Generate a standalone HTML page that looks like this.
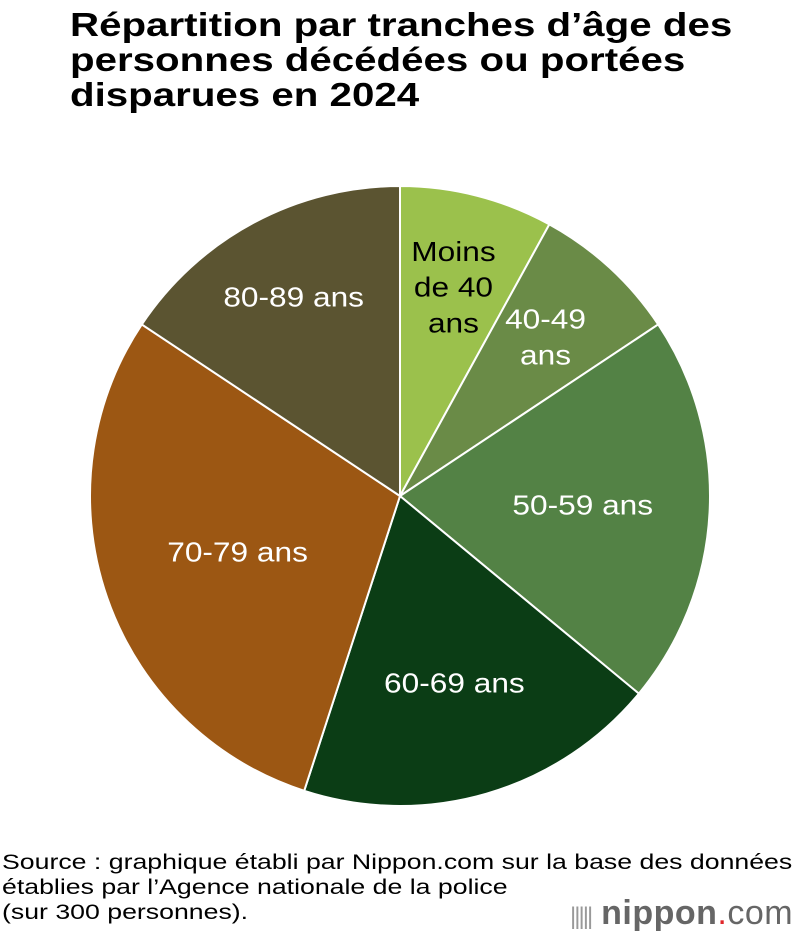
<!DOCTYPE html>
<html><head><meta charset="utf-8"><style>
body{margin:0;width:800px;height:936px;background:#fff;font-family:"Liberation Sans",sans-serif;position:relative;overflow:hidden}
#title{position:absolute;left:70px;top:7px;font-size:33px;font-weight:bold;line-height:35px;color:#000;margin:0;white-space:nowrap;transform:scaleX(1.22);transform-origin:0 0}
#src{position:absolute;left:2px;top:850px;font-size:21px;line-height:25px;color:#000;white-space:nowrap;transform:scaleX(1.27);transform-origin:0 0}
#logo{position:absolute;left:570px;top:894px;font-size:34px;color:#666;letter-spacing:0.5px;white-space:nowrap}
</style></head><body>
<h1 id="title">Répartition par tranches d’âge des<br>personnes décédées ou portées<br>disparues en 2024</h1>
<svg id="pie" width="800" height="936" style="position:absolute;left:0;top:0"></svg>
<div id="src">Source : graphique établi par Nippon.com sur la base des données<br>établies par l’Agence nationale de la police<br>(sur 300 personnes).</div>
<div id="logo"><span style="font-size:24px;color:#999;letter-spacing:-2px">|||||</span> <b>nippon</b><span style="color:#e0262a">.</span>com</div>
<script>
const categories=["Moins de 40 ans","40-49 ans","50-59 ans","60-69 ans","70-79 ans","80-89 ans"];
const labelLines=[["Moins","de 40","ans"],["40-49","ans"],["50-59 ans"],["60-69 ans"],["70-79 ans"],["80-89 ans"]];
const values=[24,23,61,57,88,47];
const colors=["#9bc14c","#6a8b47","#538245","#0b3d15","#9c5713","#5b5431"];
const textColors=["#000","#fff","#fff","#fff","#fff","#fff"];
const labelRadius=[215,215,183,195,172,225];
const cx=400,cy=496,r=310;
const svg=document.getElementById('pie');
const NS="http://www.w3.org/2000/svg";
const total=values.reduce((a,b)=>a+b,0);
function pt(a,rad){return [cx+rad*Math.sin(a),cy-rad*Math.cos(a)];}
let acc=0;
values.forEach((v,i)=>{
  const a0=acc/total*2*Math.PI; acc+=v; const a1=acc/total*2*Math.PI;
  const p0=pt(a0,r),p1=pt(a1,r);
  const path=document.createElementNS(NS,'path');
  path.setAttribute('d',`M${cx},${cy}L${p0[0]},${p0[1]}A${r},${r} 0 ${a1-a0>Math.PI?1:0} 1 ${p1[0]},${p1[1]}Z`);
  path.setAttribute('fill',colors[i]);path.setAttribute('stroke','#fff');path.setAttribute('stroke-width','2');
  
  
  svg.appendChild(path);
  const m=(a0+a1)/2;
  const lp=pt(m,labelRadius[i]);
  const lines=labelLines[i];
  const t=document.createElementNS(NS,'text');
  t.setAttribute('text-anchor','middle');t.setAttribute('font-size','28');
  t.setAttribute('fill',textColors[i]);t.setAttribute('font-family','Liberation Sans, sans-serif');
  t.setAttribute('transform',`translate(${lp[0]},0) scale(1.13,1) translate(${-lp[0]},0)`);
  
  
  lines.forEach((ln,k)=>{
    const s=document.createElementNS(NS,'tspan');
    s.setAttribute('x',lp[0]);
    s.setAttribute('y',lp[1]+9+(k-(lines.length-1)/2)*36);
    s.textContent=ln;t.appendChild(s);
  });
  svg.appendChild(t);
});
</script>
</body></html>
